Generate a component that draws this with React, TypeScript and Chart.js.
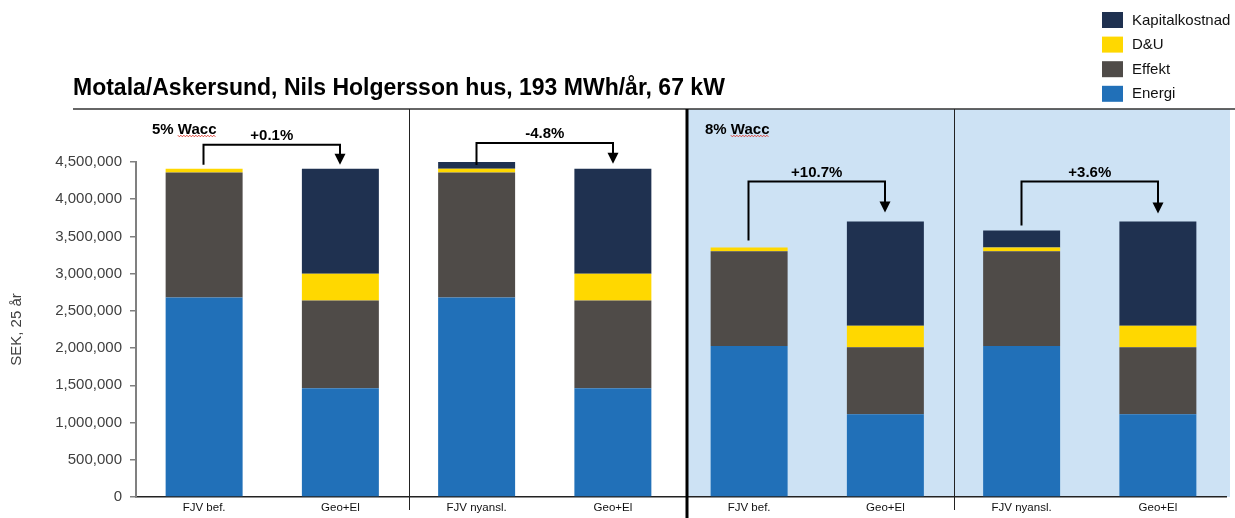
import React, { useEffect, useRef } from 'react';
import { Chart, registerables } from 'chart.js';

Chart.register(...registerables);

// ---------- data ----------
const categories = ['FJV bef.', 'Geo+El', 'FJV nyansl.', 'Geo+El', 'FJV bef.', 'Geo+El', 'FJV nyansl.', 'Geo+El'];
const energi = [2680000, 1460000, 2680000, 1460000, 2030000, 1110000, 2030000, 1110000];
const effekt = [1680000, 1180000, 1680000, 1180000, 1270000, 900000, 1270000, 900000];
const dou = [50000, 360000, 50000, 360000, 50000, 290000, 50000, 290000];
const kapital = [0, 1410000, 90000, 1410000, 0, 1400000, 230000, 1400000];
const yTickValues = [0, 500000, 1000000, 1500000, 2000000, 2500000, 3000000, 3500000, 4000000, 4500000];
const seriesNames = ['Energi', 'Effekt', 'D&U', 'Kapitalkostnad'];
const waccLabels = ['5% Wacc', '8% Wacc'];
const changeLabels = ['+0.1%', '-4.8%', '+10.7%', '+3.6%'];
const titleText = 'Motala/Askersund, Nils Holgersson hus, 193 MWh/år, 67 kW';
const yTitleText = 'SEK, 25 år';

// ---------- styles ----------
const FONT = '"Liberation Sans", Arial, sans-serif';
const COLORS = ['#2170B8', '#4F4B48', '#FFD800', '#1F3150'];
const LIGHT_BLUE = '#CDE2F4';
const HEADER_Y = 109;

const fmt = (v: number) => String(v).replace(/\B(?=(\d{3})+(?!\d))/g, ',');

const decorPlugin = {
  id: 'decor',
  beforeDraw(chart: any) {
    const { ctx, chartArea, scales } = chart;
    const x = scales.x;
    const split = (x.getPixelForValue(3) + x.getPixelForValue(4)) / 2 + 6;
    ctx.save();
    ctx.fillStyle = LIGHT_BLUE;
    ctx.fillRect(split, HEADER_Y, chartArea.right + 4 - split, chartArea.bottom - HEADER_Y);
    ctx.restore();
  },
  afterDraw(chart: any) {
    const { ctx, chartArea, scales } = chart;
    const x = scales.x;
    const y = scales.y;
    const ds = chart.data.datasets;
    const totals = categories.map((_, i) => ds.reduce((s: number, d: any) => s + (d.data[i] || 0), 0));
    const mid = (a: number, b: number) => (x.getPixelForValue(a) + x.getPixelForValue(b)) / 2;
    const split = mid(3, 4) + 6;

    ctx.save();
    // title
    ctx.fillStyle = '#000';
    ctx.font = `bold 23px ${FONT}`;
    ctx.textAlign = 'left';
    ctx.textBaseline = 'alphabetic';
    ctx.fillText(titleText, 73, 95);

    // header line
    ctx.strokeStyle = '#333';
    ctx.lineWidth = 1.5;
    ctx.beginPath();
    ctx.moveTo(73, HEADER_Y);
    ctx.lineTo(chart.width, HEADER_Y);
    ctx.stroke();

    // dividers
    ctx.strokeStyle = '#222';
    ctx.lineWidth = 1;
    [mid(1, 2), mid(5, 6)].forEach((px) => {
      const xx = Math.round(px) + 0.5;
      ctx.beginPath();
      ctx.moveTo(xx, HEADER_Y);
      ctx.lineTo(xx, chartArea.bottom + 13);
      ctx.stroke();
    });
    ctx.strokeStyle = '#000';
    ctx.lineWidth = 3;
    ctx.beginPath();
    ctx.moveTo(split, HEADER_Y);
    ctx.lineTo(split, chart.height);
    ctx.stroke();

    // legend
    const legendItems = [3, 2, 1, 0];
    legendItems.forEach((di, i) => {
      const top = 12 + i * 24.6;
      ctx.fillStyle = COLORS[di];
      ctx.fillRect(1102, top, 21, 16);
      ctx.fillStyle = '#111';
      ctx.font = `15px ${FONT}`;
      ctx.textAlign = 'left';
      ctx.textBaseline = 'middle';
      ctx.fillText(seriesNames[di], 1132, top + 8.5);
    });

    // y title
    ctx.save();
    ctx.translate(17, (chartArea.top + chartArea.bottom) / 2);
    ctx.rotate(-Math.PI / 2);
    ctx.fillStyle = '#404040';
    ctx.font = `15px ${FONT}`;
    ctx.textAlign = 'center';
    ctx.textBaseline = 'middle';
    ctx.fillText(yTitleText, 0, 0);
    ctx.restore();

    // wacc labels with spellcheck squiggle
    const waccX = [chartArea.left + 16, split + 18];
    waccLabels.forEach((lab, i) => {
      ctx.font = `bold 15px ${FONT}`;
      ctx.fillStyle = '#000';
      ctx.textAlign = 'left';
      ctx.textBaseline = 'alphabetic';
      ctx.fillText(lab, waccX[i], 133.5);
      const parts = lab.split(' ');
      const start = waccX[i] + ctx.measureText(parts[0] + ' ').width;
      const w = ctx.measureText(parts[1]).width;
      ctx.strokeStyle = '#E0463A';
      ctx.lineWidth = 1;
      ctx.beginPath();
      for (let k = 0; k <= w; k += 1.5) {
        const yy = 136 + (Math.floor(k / 1.5) % 2 === 0 ? -0.8 : 0.8);
        if (k === 0) ctx.moveTo(start + k, yy);
        else ctx.lineTo(start + k, yy);
      }
      ctx.stroke();
    });

    // brackets with arrows
    const pairs = [[0, 1], [2, 3], [4, 5], [6, 7]];
    const rise = [24, 19, 40, 40];
    const legGap = [4, -3, 7, 5];
    const tipGap = [4, 5, 9, 8];
    pairs.forEach(([a, b], i) => {
      const xa = Math.round(x.getPixelForValue(a)) - 0.5;
      const xb = Math.round(x.getPixelForValue(b));
      const ta = y.getPixelForValue(totals[a]);
      const tb = y.getPixelForValue(totals[b]);
      const hy = Math.min(ta, tb) - rise[i];
      const legEnd = ta - legGap[i];
      const tip = tb - tipGap[i];
      ctx.strokeStyle = '#000';
      ctx.fillStyle = '#000';
      ctx.lineWidth = 2;
      ctx.lineJoin = 'miter';
      ctx.beginPath();
      ctx.moveTo(xa, legEnd);
      ctx.lineTo(xa, hy);
      ctx.lineTo(xb, hy);
      ctx.lineTo(xb, tip - 9);
      ctx.stroke();
      ctx.beginPath();
      ctx.moveTo(xb - 5.5, tip - 11);
      ctx.lineTo(xb + 5.5, tip - 11);
      ctx.lineTo(xb, tip);
      ctx.closePath();
      ctx.fill();
      ctx.font = `bold 15px ${FONT}`;
      ctx.textAlign = 'center';
      ctx.textBaseline = 'alphabetic';
      ctx.fillText(changeLabels[i], (xa + xb) / 2, hy - 5);
    });
    ctx.restore();
  },
};

export default function App() {
  const canvasRef = useRef<HTMLCanvasElement | null>(null);

  useEffect(() => {
    if (!canvasRef.current) return;
    const values = [energi, effekt, dou, kapital];
    const chart = new Chart(canvasRef.current, {
      type: 'bar',
      data: {
        labels: categories,
        datasets: values.map((d, i) => ({
          label: seriesNames[i],
          data: d,
          backgroundColor: COLORS[i],
          borderWidth: 0,
          barPercentage: 1,
          categoryPercentage: 0.565,
          clip: false as any,
        })),
      },
      options: {
        responsive: false,
        animation: false,
        layout: { padding: { top: 162, right: 9, bottom: 0, left: 0 } },
        plugins: {
          legend: { display: false },
          tooltip: { enabled: false },
          title: { display: false },
        },
        scales: {
          x: {
            stacked: true,
            grid: { display: false, drawTicks: false },
            border: { display: true, color: '#222', width: 1.5 },
            ticks: {
              color: '#111',
              font: { family: FONT, size: 11.5 },
              padding: 4,
              maxRotation: 0,
              autoSkip: false,
            },
            afterFit: (s: any) => {
              s.height = 21;
            },
          },
          y: {
            stacked: true,
            min: 0,
            max: 4500000,
            afterBuildTicks: (s: any) => {
              s.ticks = yTickValues.map((v) => ({ value: v }));
            },
            grid: {
              drawOnChartArea: false,
              drawTicks: true,
              tickLength: 6,
              color: '#808080',
              lineWidth: 1.5,
            },
            border: { display: true, color: '#808080', width: 2 },
            ticks: {
              color: '#404040',
              font: { family: FONT, size: 15 },
              padding: 8,
              callback: (v: any) => fmt(Number(v)),
            },
            afterFit: (s: any) => {
              s.width = 136;
            },
          },
        },
      },
      plugins: [decorPlugin],
    });
    return () => chart.destroy();
  }, []);

  return (
    <div style={{ position: 'fixed', left: 0, top: 0, width: 1235, height: 518, background: '#fff' }}>
      <canvas ref={canvasRef} width={1235} height={518} style={{ width: 1235, height: 518, display: 'block' }} />
    </div>
  );
}
